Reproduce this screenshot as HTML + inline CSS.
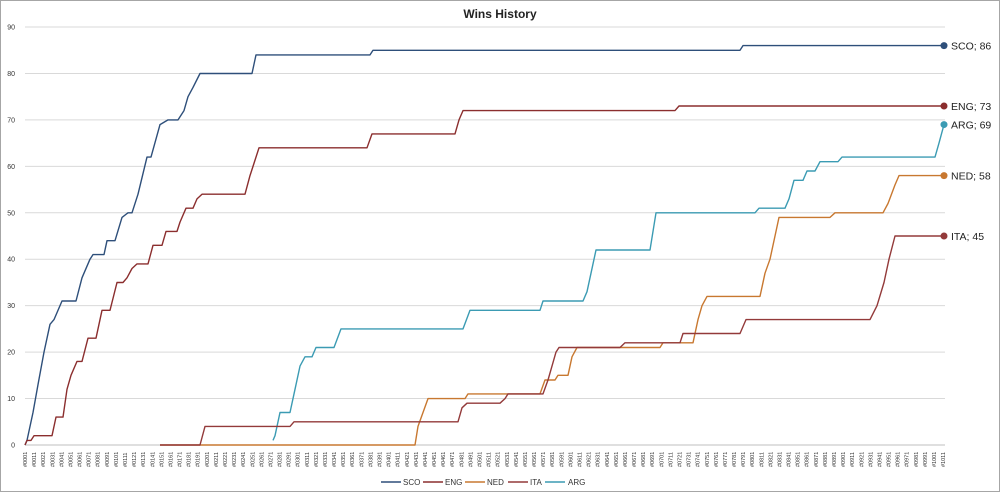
<!DOCTYPE html>
<html><head><meta charset="utf-8"><style>
html,body{margin:0;padding:0;background:#fff;}
body{width:1000px;height:493px;overflow:hidden;font-family:"Liberation Sans",sans-serif;}
</style></head><body>
<svg id="s" width="1000" height="493" xmlns="http://www.w3.org/2000/svg" font-family="Liberation Sans, sans-serif">
<rect x="0.5" y="0.5" width="999" height="491" fill="#fff" stroke="#a6a6a6"/>
<text x="500" y="18" text-anchor="middle" font-size="12" font-weight="bold" fill="#222">Wins History</text>
<g id="grid"></g><g id="lines"></g><g id="xl"></g>
<g font-size="8" fill="#333">
<line x1="381" y1="482" x2="401" y2="482" stroke="#2e4f7a" stroke-width="1.5"/><text x="403" y="485">SCO</text>
<line x1="423" y1="482" x2="443" y2="482" stroke="#8b2e2e" stroke-width="1.5"/><text x="445" y="485">ENG</text>
<line x1="465" y1="482" x2="485" y2="482" stroke="#c87830" stroke-width="1.5"/><text x="487" y="485">NED</text>
<line x1="508" y1="482" x2="528" y2="482" stroke="#933a3a" stroke-width="1.5"/><text x="530" y="485">ITA</text>
<line x1="545" y1="482" x2="565" y2="482" stroke="#3b9bb3" stroke-width="1.5"/><text x="568" y="485">ARG</text>
</g>
</svg>
<script>
var NS="http://www.w3.org/2000/svg",s=document.getElementById('s');
function Y(v){return 445-v*4.644;}
function el(p,t,a,txt){var e=document.createElementNS(NS,t);for(var k in a)e.setAttribute(k,a[k]);if(txt!=null)e.textContent=txt;document.getElementById(p).appendChild(e);return e;}
for(var v=0;v<=90;v+=10){var y=Y(v);el('grid','line',{x1:25,x2:945,y1:y,y2:y,stroke:v?'#d9d9d9':'#bfbfbf','stroke-width':1});el('grid','text',{x:15,y:y+2.5,'font-size':7,'text-anchor':'end',fill:'#333'},v);}
for(var i=0;i<102;i++){var n=1+i*10,x=25+(n-1)*0.909,t=('000'+n).slice(-4);el('xl','text',{transform:'translate('+(x+2)+',467) rotate(-90)','font-size':5.5,fill:'#333'},'#'+t);}
function step(p){var d=[];for(var i=0;i<p.length;i+=2){d.push(p[i]+','+Y(p[i+1]).toFixed(1));}return d.join(' ');}
var S={
'#2e4f7a':[25,0,27,1,33,7,38,13,44,20,50,26,54,27,62,31,76,31,82,36,90,40,93,41,104,41,107,44,115,44,122,49,128,50,132,50,138,54,147,62,151,62,160,69,168,70,178,70,184,72,188,75,193,77,200,80,252,80,256,84,370,84,373,85,740,85,743,86,944,86],
'#8b2e2e':[25,0,27,1,31,1,34,2,52,2,56,6,63,6,67,12,71,15,77,18,82,18,88,23,96,23,102,29,110,29,117,35,123,35,127,36,132,38,137,39,148,39,153,43,162,43,166,46,177,46,180,48,186,51,193,51,197,53,202,54,245,54,250,58,253,60,259,64,367,64,372,67,455,67,459,70,463,72,675,72,679,73,944,73],
'#3b9bb3':[273,1,275,2,280,7,290,7,295,12,300,17,305,19,312,19,316,21,334,21,341,25,463,25,470,29,540,29,543,31,583,31,587,33,591,37,596,42,650,42,656,50,755,50,759,51,785,51,789,53,794,57,803,57,807,59,815,59,820,61,838,61,842,62,935,62,939,65,944,69],
'#c87830':[160,0,415,0,418,4,423,7,428,10,465,10,468,11,540,11,545,14,555,14,558,15,568,15,572,19,577,21,660,21,663,22,693,22,698,27,702,30,707,32,760,32,765,37,770,40,775,45,779,49,830,49,835,50,883,50,888,52,895,56,899,58,944,58],
'#933a3a':[160,0,200,0,205,4,290,4,294,5,458,5,462,8,467,9,500,9,505,10,508,11,543,11,548,14,552,17,556,20,559,21,620,21,625,22,680,22,683,24,740,24,746,27,870,27,877,30,884,35,889,40,895,45,944,45]};
for(var c in S)el('lines','polyline',{points:step(S[c]),fill:'none',stroke:c,'stroke-width':1.4,'stroke-linejoin':'round'});
var L=[['#2e4f7a','SCO; 86',86],['#8b2e2e','ENG; 73',73],['#3b9bb3','ARG; 69',69],['#c87830','NED; 58',58],['#933a3a','ITA; 45',45]];
L.forEach(function(l){var y=Y(l[2]);el('lines','circle',{cx:944,cy:y,r:3.5,fill:l[0]});el('lines','text',{x:951,y:y+4,'font-size':10.5,fill:'#222'},l[1]);});
</script>
</body></html>
